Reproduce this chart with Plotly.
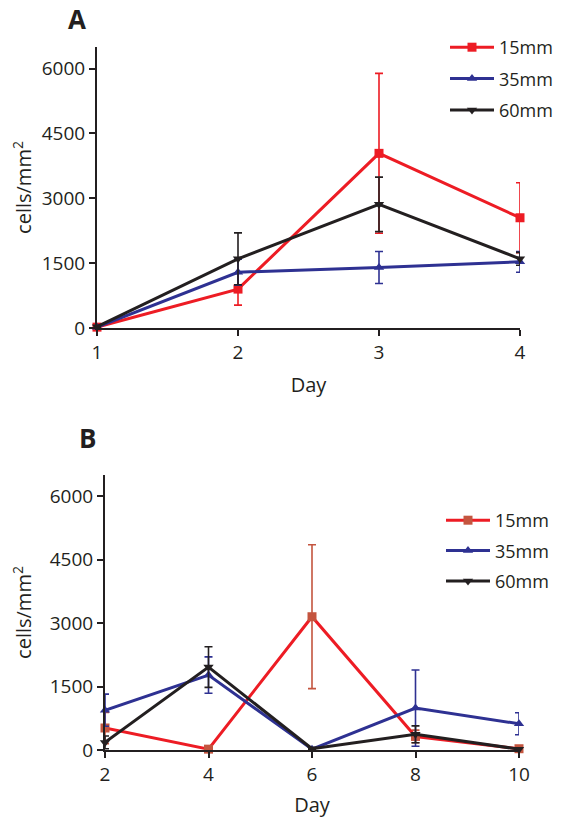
import plotly.graph_objects as go

# Panel A data
days_a = [1, 2, 3, 4]
a_15 = [20, 900, 4040, 2550]
a_15_err = [30, 370, 1850, 810]
a_35 = [20, 1290, 1400, 1530]
a_35_err = [20, 300, 370, 240]
a_60 = [30, 1600, 2860, 1600]
a_60_err = [20, 600, 630, 150]

# Panel B data
days_b = [2, 4, 6, 8, 10]
b_15 = [520, 20, 3150, 320, 30]
b_15_err = [370, 20, 1700, 150, 20]
b_35 = [940, 1770, 20, 990, 620]
b_35_err = [380, 430, 20, 900, 260]
b_60 = [180, 1960, 30, 370, 20]
b_60_err = [150, 480, 20, 200, 20]

series_names = ["15mm", "35mm", "60mm"]
tick_y = [0, 1500, 3000, 4500, 6000]

RED = "#ed1c24"
BROWN = "#c4553f"
BLUE = "#2e3192"
BLACK = "#231f20"
FONT = "Open Sans"

fig = go.Figure()

def add(x, y, err, name, line_color, marker_color, err_color, symbol, xa, ya, legend, group):
    fig.add_trace(go.Scatter(
        x=x, y=y, name=name, mode="lines+markers",
        line=dict(color=line_color, width=3),
        marker=dict(color=marker_color, symbol=symbol, size=9),
        error_y=dict(type="data", array=err, visible=True, color=err_color, thickness=1.6, width=4),
        xaxis=xa, yaxis=ya, legend=legend, legendgroup=group, cliponaxis=False,
    ))

add(days_a, a_15, a_15_err, series_names[0], RED, RED, RED, "square", "x", "y", "legend", "a1")
add(days_a, a_35, a_35_err, series_names[1], BLUE, BLUE, BLUE, "triangle-up", "x", "y", "legend", "a2")
add(days_a, a_60, a_60_err, series_names[2], BLACK, BLACK, BLACK, "triangle-down", "x", "y", "legend", "a3")

add(days_b, b_15, b_15_err, series_names[0], RED, BROWN, BROWN, "square", "x2", "y2", "legend2", "b1")
add(days_b, b_35, b_35_err, series_names[1], BLUE, BLUE, BLUE, "triangle-up", "x2", "y2", "legend2", "b2")
add(days_b, b_60, b_60_err, series_names[2], BLACK, BLACK, BLACK, "triangle-down", "x2", "y2", "legend2", "b3")

W, H = 566, 819
OFF = 8  # page body margin
def px(v): return (v - OFF) / W
def py(v): return 1 - (v - OFF) / H

axis_common = dict(
    showline=True, linecolor=BLACK, linewidth=2, ticks="outside", ticklen=6,
    tickwidth=1.5, tickcolor=BLACK, showgrid=False, zeroline=False, automargin=False,
    tickfont=dict(family=FONT, size=19, color=BLACK),
)
title_font = dict(family=FONT, size=20, color=BLACK)

fig.update_layout(
    template="none",
    width=W, height=H, margin=dict(l=0, r=0, t=0, b=0),
    paper_bgcolor="white", plot_bgcolor="white",
    font=dict(family=FONT, color=BLACK),
    xaxis=dict(domain=[px(97), px(520)], anchor="y", range=[1, 4], tickvals=days_a,
               title=dict(text="Day", font=title_font, standoff=14),
               **axis_common),
    yaxis=dict(domain=[py(328), py(47)], anchor="x", range=[0, 6500], tickvals=tick_y,
               title=dict(text="cells/mm<sup>2</sup>", font=title_font, standoff=13),
               **axis_common),
    xaxis2=dict(domain=[px(105), px(519)], anchor="y2", range=[2, 10], tickvals=days_b,
                title=dict(text="Day", font=title_font, standoff=12),
                **axis_common),
    yaxis2=dict(domain=[py(750), py(475)], anchor="x2", range=[0, 6500], tickvals=tick_y,
                title=dict(text="cells/mm<sup>2</sup>", font=title_font, standoff=13),
                **axis_common),
    legend=dict(x=px(445), y=py(29), xanchor="left", yanchor="top", itemwidth=44,
                font=dict(family=FONT, size=18, color=BLACK), tracegroupgap=5,
                bgcolor="rgba(0,0,0,0)"),
    legend2=dict(x=px(441), y=py(502), xanchor="left", yanchor="top", itemwidth=44,
                 font=dict(family=FONT, size=18, color=BLACK), tracegroupgap=4,
                 bgcolor="rgba(0,0,0,0)"),
    annotations=[
        dict(text="<b>A</b>", x=px(77), y=py(19), xref="paper", yref="paper", showarrow=False,
             font=dict(family=FONT, size=26, color=BLACK), xanchor="center", yanchor="middle"),
        dict(text="<b>B</b>", x=px(87), y=py(438), xref="paper", yref="paper", showarrow=False,
             font=dict(family=FONT, size=26, color=BLACK), xanchor="center", yanchor="middle"),
    ],
)

fig.write_html("out.html")
